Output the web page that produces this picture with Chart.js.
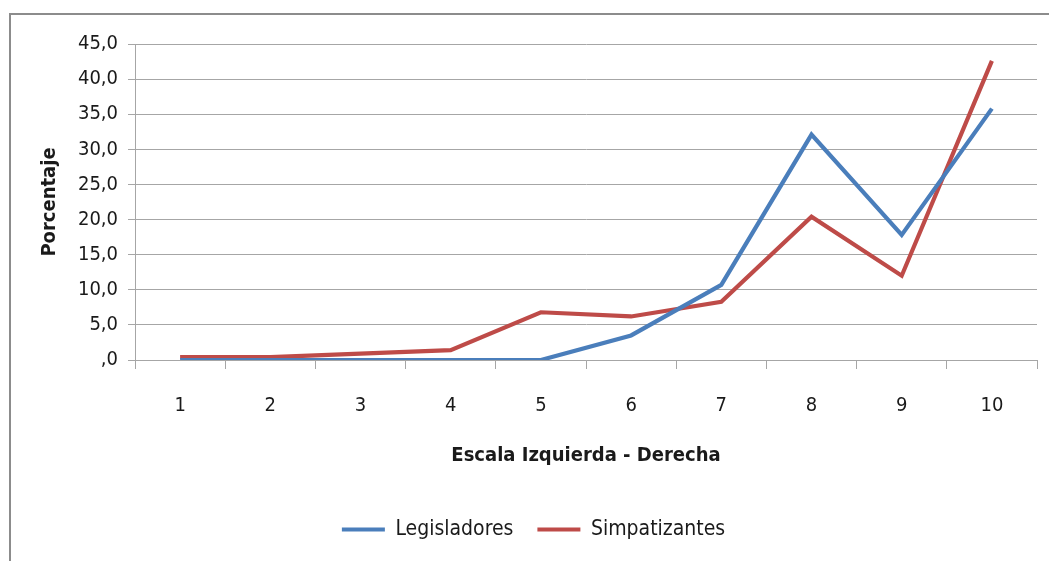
<!DOCTYPE html>
<html>
<head>
<meta charset="utf-8">
<script src="https://cdn.jsdelivr.net/npm/chart.js@4.4.0/dist/chart.umd.min.js"></script>
<style>
  html, body { margin: 0; padding: 0; background: #fff; }
  #frame { position: absolute; left: 9px; top: 13px; width: 1100px; height: 600px;
           border-top: 2px solid #8c8c8c; border-left: 2px solid #8c8c8c; }
  #wrap { position: absolute; left: 0; top: 0; width: 1049px; height: 561px; }
</style>
</head>
<body>
<div id="frame"></div>
<div id="wrap"><canvas id="chart" width="1049" height="561"></canvas></div>
<script>
// categorías del eje X
const categories = ['1', '2', '3', '4', '5', '6', '7', '8', '9', '10'];
// series (porcentaje)
const legisladores = [0, 0, 0, 0, 0, 3.5, 10.7, 32.1, 17.8, 35.8];
const simpatizantes = [0.4, 0.4, 0.9, 1.4, 6.8, 6.2, 8.3, 20.4, 12.0, 42.6];
// etiquetas del eje Y
const yTickLabels = [',0', '5,0', '10,0', '15,0', '20,0', '25,0', '30,0', '35,0', '40,0', '45,0'];

const FONT = "'Liberation Sans Narrow', 'DejaVu Sans Condensed', sans-serif";
const GRID = '#a6a6a6';
const BLUE = '#4a7ebb';
const RED = '#be4b48';

Chart.defaults.font.family = FONT;
Chart.defaults.color = '#1a1a1a';

new Chart(document.getElementById('chart'), {
  type: 'line',
  data: {
    labels: categories,
    datasets: [
      { label: 'Legisladores', data: legisladores, borderColor: BLUE, backgroundColor: BLUE,
        borderWidth: 4.2, pointRadius: 0, tension: 0 },
      { label: 'Simpatizantes', data: simpatizantes, borderColor: RED, backgroundColor: RED,
        borderWidth: 4.2, pointRadius: 0, tension: 0 }
    ]
  },
  options: {
    responsive: false,
    animation: false,
    devicePixelRatio: 1,
    layout: { padding: { left: 30, right: 12, top: 44, bottom: 11 } },
    plugins: {
      tooltip: { enabled: false },
      legend: {
        position: 'bottom',
        labels: {
          boxWidth: 43,
          boxHeight: 4,
          padding: 24,
          font: { size: 21 },
          color: '#1a1a1a',
          generateLabels: chart => chart.data.datasets.map((ds, i) => ({
            text: ds.label,
            fillStyle: ds.borderColor,
            strokeStyle: ds.borderColor,
            lineWidth: 0,
            hidden: false,
            datasetIndex: i,
            fontColor: '#1a1a1a'
          }))
        }
      }
    },
    scales: {
      x: {
        offset: true,
        grid: { offset: true, drawOnChartArea: false, drawTicks: true, tickLength: 9, color: GRID },
        border: { display: true, color: GRID, width: 1 },
        ticks: { font: { size: 20 }, padding: 25, maxRotation: 0 },
        title: { display: true, text: 'Escala Izquierda - Derecha',
                 font: { size: 20, weight: 'bold' }, padding: { top: 0, bottom: 27 } },
        afterFit: scale => { scale.height = 135; }
      },
      y: {
        min: 0,
        max: 45,
        grid: { color: GRID, tickLength: 7, lineWidth: 1 },
        border: { display: true, color: GRID },
        ticks: { stepSize: 5, font: { size: 20 }, padding: 10,
                 callback: (v, i) => yTickLabels[i] },
        title: { display: true, text: 'Porcentaje',
                 font: { size: 20, weight: 'bold' }, padding: { top: 8, bottom: 0 } },
        afterFit: scale => { scale.width = 105; }
      }
    }
  }
});
</script>
</body>
</html>
